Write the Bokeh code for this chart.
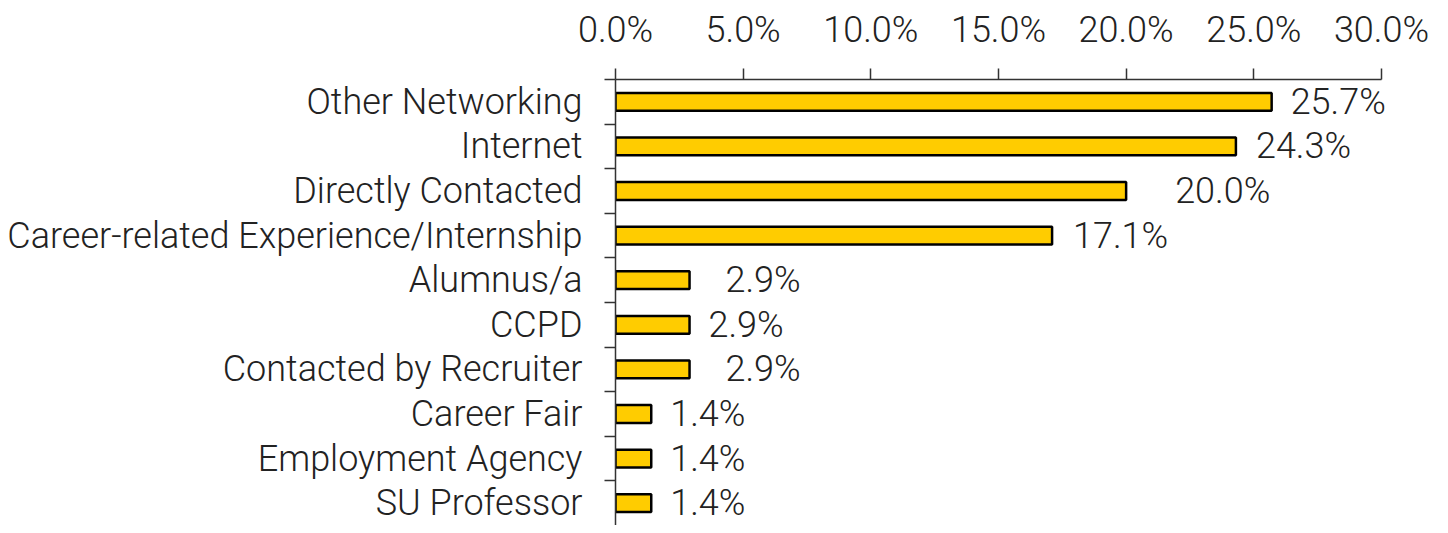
from bokeh.plotting import figure
from bokeh.models import ColumnDataSource, FixedTicker, NumeralTickFormatter, Range1d, LabelSet
from bokeh.core.properties import value
from bokeh.embed import file_html
from bokeh.resources import INLINE

categories = ["Other Networking", "Internet", "Directly Contacted",
              "Career-related Experience/Internship", "Alumnus/a", "CCPD",
              "Contacted by Recruiter", "Career Fair", "Employment Agency",
              "SU Professor"]
percent = [25.7, 24.3, 20.0, 17.1, 2.9, 2.9, 2.9, 1.4, 1.4, 1.4]
x_ticks = [0.0, 5.0, 10.0, 15.0, 20.0, 25.0, 30.0]

# label offsets in pixels (layout only)
label_offsets_px = [19, 20, 49, 21, 36, 19, 36, 19, 19, 19]

FONT = "'Roboto Light', Roboto"
FS = "36px"

n = len(categories)
centers = [i + 0.5 for i in range(n)]
source = ColumnDataSource(dict(
    y=centers,
    x=[v / 100 for v in percent],
    lab=[f"{v:.1f}%" for v in percent],
    off=label_offsets_px,
))

# frame extends a little past the last tick so value labels are not clipped
x_end = 0.32
p = figure(width=1440, height=525, output_backend="svg", toolbar_location=None,
           x_axis_location="above",
           x_range=Range1d(0, x_end), y_range=Range1d(n, 0),
           min_border_left=615, min_border_top=79, min_border_right=8,
           min_border_bottom=0)
p.outline_line_color = None
p.grid.grid_line_color = None
p.background_fill_color = "white"

p.hbar(y="y", right="x", left=0, height=0.4, source=source,
       fill_color="#FFCC00", line_color="black", line_width=2.5)
labels = LabelSet(x="x", y="y", text="lab", x_offset="off", source=source,
                  text_font=value(FONT), text_font_size=value(FS),
                  text_color="#222222",
                  text_baseline="middle", text_align="left")
p.add_layout(labels)

xa = p.xaxis[0]
xa.ticker = FixedTicker(ticks=[t / 100 for t in x_ticks], minor_ticks=[])
xa.bounds = (0, x_ticks[-1] / 100)
xa.formatter = NumeralTickFormatter(format="0.0%")
xa.major_label_text_font = FONT
xa.major_label_text_font_size = FS
xa.major_label_text_color = "#222222"
xa.major_tick_in = 0
xa.major_tick_out = 11
xa.major_label_standoff = 18
xa.axis_line_color = "#333333"
xa.axis_line_width = 1.5
xa.major_tick_line_color = "#333333"
xa.major_tick_line_width = 1.5

ya = p.yaxis[0]
ya.ticker = FixedTicker(ticks=centers, minor_ticks=list(range(0, n)))
ya.major_label_overrides = {c: name for c, name in zip(centers, categories)}
ya.major_label_text_font = FONT
ya.major_label_text_font_size = FS
ya.major_label_text_color = "#222222"
ya.major_tick_line_color = None
ya.major_tick_in = 0
ya.major_tick_out = 0
ya.minor_tick_in = 0
ya.minor_tick_out = 11
ya.minor_tick_line_color = "#333333"
ya.minor_tick_line_width = 1.5
ya.major_label_standoff = 22
ya.axis_line_color = "#333333"
ya.axis_line_width = 1.5

open("out.html", "w").write(file_html(p, INLINE))
